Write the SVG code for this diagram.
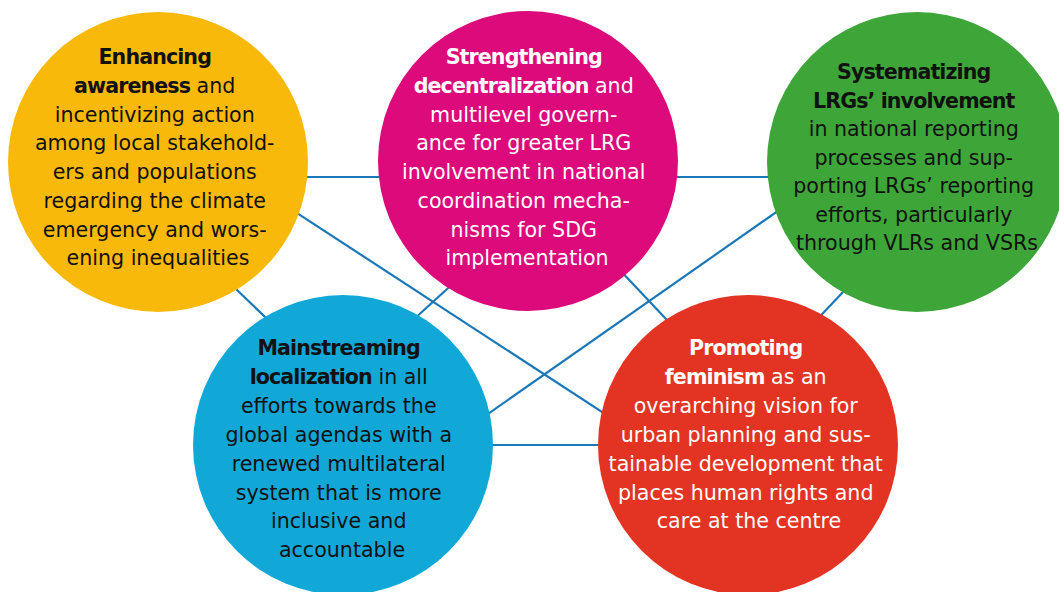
<svg xmlns="http://www.w3.org/2000/svg" width="1059" height="592" viewBox="0 0 1059 592">
<style>
.ln{stroke:#1a78b8;stroke-width:2.2;fill:none}
.t{font-family:"DejaVu Sans",sans-serif;font-size:20.6px;text-anchor:middle}
.b{font-weight:bold;letter-spacing:-0.9px}
.dk{fill:#111}
.wh{fill:#fff}
</style>
<rect width="1059" height="592" fill="#fff"/>
<g id="connectors">
<line class="ln" x1="250" y1="177" x2="450" y2="177"/>
<line class="ln" x1="600" y1="177" x2="850" y2="177"/>
<line class="ln" x1="250" y1="182.4" x2="680" y2="462.8"/>
<line class="ln" x1="850" y1="160.5" x2="420" y2="461.5"/>
<line class="ln" x1="210" y1="264" x2="290" y2="341"/>
<line class="ln" x1="480" y1="259" x2="390" y2="341"/>
<line class="ln" x1="600" y1="249" x2="700" y2="355"/>
<line class="ln" x1="880" y1="253" x2="790" y2="348"/>
<line class="ln" x1="420" y1="445" x2="680" y2="445"/>
</g>
<g id="node-awareness">
<circle cx="158" cy="162" r="150" fill="#f9b90b"/>
<text class="t dk">
<tspan x="158" y="64" class="b">Enhancing</tspan>
<tspan x="158" y="93"><tspan class="b">awareness</tspan> and</tspan>
<tspan x="158" y="122">incentivizing action</tspan>
<tspan x="158" y="150">among local stakehold-</tspan>
<tspan x="158" y="179">ers and populations</tspan>
<tspan x="158" y="208">regarding the climate</tspan>
<tspan x="158" y="237">emergency and wors-</tspan>
<tspan x="158" y="265">ening inequalities</tspan>
</text>
</g>
<g id="node-decentralization">
<circle cx="528" cy="161" r="150" fill="#dc0a7a"/>
<text class="t wh">
<tspan x="527" y="64" class="b">Strengthening</tspan>
<tspan x="527" y="93"><tspan class="b">decentralization</tspan> and</tspan>
<tspan x="527" y="122">multilevel govern-</tspan>
<tspan x="527" y="150">ance for greater LRG</tspan>
<tspan x="527" y="179">involvement in national</tspan>
<tspan x="527" y="208">coordination mecha-</tspan>
<tspan x="527" y="237">nisms for SDG</tspan>
<tspan x="527" y="265">implementation</tspan>
</text>
</g>
<g id="node-reporting">
<circle cx="917" cy="162" r="150" fill="#3ea639"/>
<text class="t dk">
<tspan x="917" y="79" class="b">Systematizing</tspan>
<tspan x="917" y="108" class="b">LRGs’ involvement</tspan>
<tspan x="917" y="136">in national reporting</tspan>
<tspan x="917" y="165">processes and sup-</tspan>
<tspan x="917" y="193">porting LRGs’ reporting</tspan>
<tspan x="917" y="222">efforts, particularly</tspan>
<tspan x="917" y="250">through VLRs and VSRs</tspan>
</text>
</g>
<g id="node-localization">
<circle cx="343" cy="445" r="150" fill="#11a8d8"/>
<text class="t dk">
<tspan x="342" y="355" class="b">Mainstreaming</tspan>
<tspan x="342" y="384"><tspan class="b">localization</tspan> in all</tspan>
<tspan x="342" y="413">efforts towards the</tspan>
<tspan x="342" y="442">global agendas with a</tspan>
<tspan x="342" y="471">renewed multilateral</tspan>
<tspan x="342" y="500">system that is more</tspan>
<tspan x="342" y="528">inclusive and</tspan>
<tspan x="342" y="557">accountable</tspan>
</text>
</g>
<g id="node-feminism">
<circle cx="748" cy="445" r="150" fill="#e33323"/>
<text class="t wh">
<tspan x="749" y="355" class="b">Promoting</tspan>
<tspan x="749" y="384"><tspan class="b">feminism</tspan> as an</tspan>
<tspan x="749" y="413">overarching vision for</tspan>
<tspan x="749" y="442">urban planning and sus-</tspan>
<tspan x="749" y="471">tainable development that</tspan>
<tspan x="749" y="500">places human rights and</tspan>
<tspan x="749" y="528">care at the centre</tspan>
</text>
</g>
</svg>
